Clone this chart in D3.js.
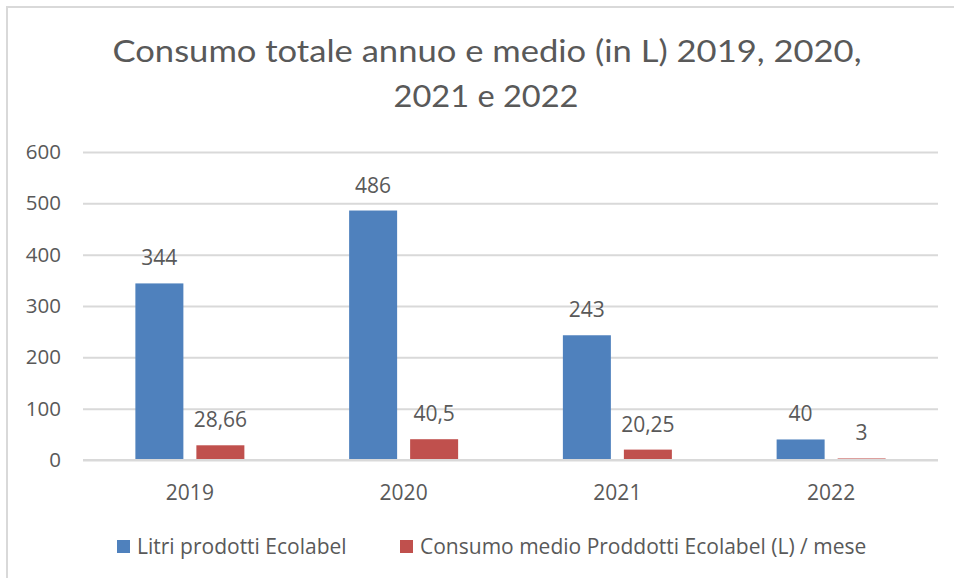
<!DOCTYPE html>
<html>
<head>
<meta charset="utf-8">
<script src="https://cdn.jsdelivr.net/npm/d3@7"></script>
<style>
  body { margin: 0; background: #fff; }
  text { font-family: "Open Sans", sans-serif; fill: #595959; }
</style>
</head>
<body>
<div id="chart"></div>
<script>
// data
var years = ["2019", "2020", "2021", "2022"];
var litri = [344, 486, 243, 40];
var medio = [28.66, 40.5, 20.25, 3];
var medioLabels = ["28,66", "40,5", "20,25", "3"];
var yTicks = [0, 100, 200, 300, 400, 500, 600];
var seriesNames = ["Litri prodotti Ecolabel", "Consumo medio Proddotti Ecolabel (L) / mese"];
var colors = ["#4F81BD", "#C0504D"];

var W = 954, H = 578;
var margin = {top: 152, right: 16, bottom: 118, left: 83};

var svg = d3.select("#chart")
  .append("svg")
    .attr("width", W)
    .attr("height", H);

// chart border (only top & left visible)
svg.append("path")
  .attr("d", "M7,578 V7 H954")
  .attr("fill", "none")
  .attr("stroke", "#d9d9d9")
  .attr("stroke-width", 2);

// title
var title = svg.append("text")
  .attr("text-anchor", "middle")
  .style("font-family", "Lato, sans-serif")
  .style("font-weight", "400")
  .style("font-size", "31px");
title.append("tspan").attr("x", 487).attr("y", 62)
  .attr("textLength", 749).attr("lengthAdjust", "spacingAndGlyphs")
  .text("Consumo totale annuo e medio (in L) 2019, 2020,");
title.append("tspan").attr("x", 486).attr("y", 107)
  .attr("textLength", 185).attr("lengthAdjust", "spacingAndGlyphs")
  .text("2021 e 2022");

// scales
var x = d3.scaleBand()
  .domain(years)
  .range([margin.left, W - margin.right]);

var y = d3.scaleLinear()
  .domain([0, 600])
  .range([H - margin.bottom, margin.top]);

var barW = 48, off = 30.5;

// gridlines + y labels
var yAxis = svg.append("g")
  .attr("transform", "translate(" + margin.left + ",0)")
  .call(d3.axisLeft(y).tickValues(yTicks).tickSize(-(W - margin.right - margin.left)).tickPadding(22));
yAxis.select(".domain").remove();
yAxis.selectAll(".tick line").attr("stroke", "#d9d9d9").attr("stroke-width", 2);
yAxis.selectAll(".tick text")
  .style("font-size", "20.5px")
  .style("font-family", "'Open Sans', sans-serif")
  .attr("fill", "#595959");

// x labels
svg.append("g")
  .selectAll("text")
  .data(years)
  .enter()
  .append("text")
    .attr("x", function(d) { return x(d) + x.bandwidth() / 2; })
    .attr("y", 500)
    .attr("text-anchor", "middle")
    .style("font-size", "21px")
    .text(function(d) { return d; });

// bars
var groups = [
  {vals: litri, labels: litri.map(String), dx: -off, color: colors[0]},
  {vals: medio, labels: medioLabels, dx: off, color: colors[1]}
];

groups.forEach(function(s) {
  svg.append("g")
    .selectAll("rect")
    .data(s.vals)
    .enter()
    .append("rect")
      .attr("x", function(d, i) { return x(years[i]) + x.bandwidth() / 2 + s.dx - barW / 2; })
      .attr("y", function(d) { return y(d); })
      .attr("width", barW)
      .attr("height", function(d) { return y(0) - y(d); })
      .attr("fill", s.color);

  svg.append("g")
    .selectAll("text")
    .data(s.vals)
    .enter()
    .append("text")
      .attr("x", function(d, i) { return x(years[i]) + x.bandwidth() / 2 + s.dx; })
      .attr("y", function(d) { return y(d) - 18; })
      .attr("text-anchor", "middle")
      .style("font-size", "21px")
      .text(function(d, i) { return s.labels[i]; });
});

// zero line drawn over the bars
svg.append("line")
  .attr("x1", margin.left)
  .attr("x2", W - margin.right)
  .attr("y1", y(0))
  .attr("y2", y(0))
  .attr("stroke", "#d9d9d9")
  .attr("stroke-width", 2);

// legend
var legendX = [117, 400];
var legend = svg.append("g")
  .selectAll("g")
  .data(seriesNames)
  .enter()
  .append("g")
    .attr("transform", function(d, i) { return "translate(" + legendX[i] + ",540)"; });
legend.append("rect")
  .attr("width", 13)
  .attr("height", 13)
  .attr("fill", function(d, i) { return colors[i]; });
legend.append("text")
  .attr("x", 20)
  .attr("y", 14)
  .style("font-size", "21px")
  .text(function(d) { return d; });
</script>
</body>
</html>
